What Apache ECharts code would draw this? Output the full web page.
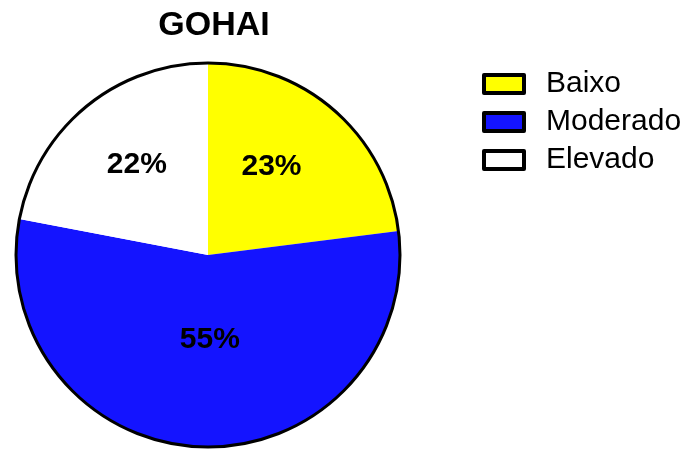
<!DOCTYPE html>
<html>
<head>
<meta charset="utf-8">
<script src="https://cdn.jsdelivr.net/npm/echarts@6/dist/echarts.min.js"></script>
<style>
    html, body { margin: 0; padding: 0; background: #fff; }
    #chart { width: 689px; height: 449px; }
</style>
</head>
<body>
<div id="chart"></div>
<script>
(function() {
    'use strict';

    var categories = ['Baixo', 'Moderado', 'Elevado'];
    var percents = [23, 55, 22];
    var colors = ['#FFFF00', '#1414FF', '#FFFFFF'];
    // label nudges, Excel puts them a bit off the mid radius
    var labelOffsets = [[-2, -14], [5, -14], [-8, -14]];

    var font = '"Liberation Sans", Arial, sans-serif';

    var slices = categories.map(function(name, i) {
        return {
            name: name,
            value: percents[i],
            itemStyle: { color: colors[i] },
            label: { offset: labelOffsets[i] }
        };
    });

    var chart = echarts.init(document.getElementById('chart'));

    chart.setOption({
        animation: false,
        backgroundColor: '#fff',
        title: {
            text: 'GOHAI',
            left: 209,
            top: 4,
            textAlign: 'center',
            textStyle: { fontFamily: font, fontSize: 34, fontWeight: 'bold', color: '#000' }
        },
        legend: {
            data: categories,
            orient: 'vertical',
            left: 477,
            top: 62,
            itemWidth: 40,
            itemHeight: 18,
            itemGap: 4,
            icon: 'rect',
            itemStyle: { borderColor: '#000', borderWidth: 4 },
            textStyle: {
                fontFamily: font,
                fontSize: 30,
                color: '#000',
                lineHeight: 34,
                padding: [0, 0, 0, 17]
            }
        },
        series: [
            {
                type: 'pie',
                center: [208, 255],
                radius: [0, 192],
                startAngle: 90,
                clockwise: true,
                silent: true,
                itemStyle: { borderWidth: 0 },
                label: {
                    show: true,
                    position: 'inside',
                    formatter: '{c}%',
                    fontFamily: font,
                    fontSize: 30,
                    fontWeight: 'bold',
                    color: '#000'
                },
                labelLine: { show: false },
                data: slices
            },
            {
                // outline ring only
                type: 'pie',
                center: [208, 255],
                radius: [0, 192],
                silent: true,
                label: { show: false },
                labelLine: { show: false },
                itemStyle: { color: 'rgba(0,0,0,0)', borderColor: '#000', borderWidth: 3 },
                data: [{ name: 'outline', value: 1 }]
            }
        ]
    });
})();
</script>
</body>
</html>
